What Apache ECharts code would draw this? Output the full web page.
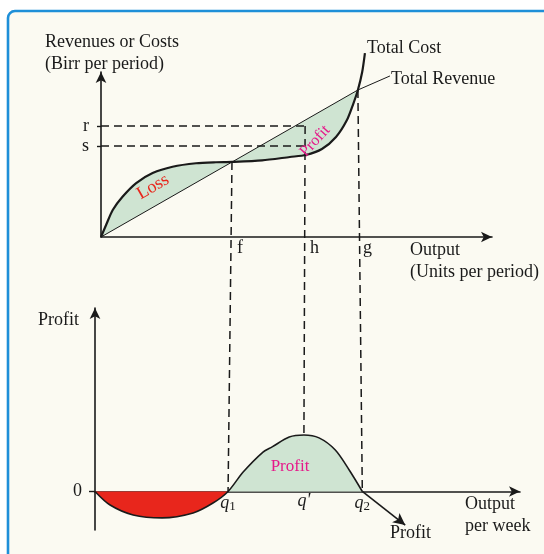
<!DOCTYPE html>
<html>
<head>
<meta charset="utf-8">
<title>Revenue, cost and profit</title>
<script src="https://cdn.jsdelivr.net/npm/echarts@6/dist/echarts.min.js"></script>
<style>
  html, body { margin: 0; padding: 0; background: #fff; }
  #chart { width: 544px; height: 554px; }
</style>
</head>
<body>
<div id="chart"></div>
<script>
// upper panel: total cost / total revenue against output
const tcOutput = [0, 0.13, 0.30, 0.55, 0.90, 1.32, 1.83, 2.43, 2.94, 3.35, 4.12, 4.83, 5.24, 5.65, 6.01, 6.29, 6.45, 6.57, 6.68, 6.75]
const tcValue = [0, 7.3, 16.4, 24.4, 32.7, 38.8, 42.6, 44.7, 45.3, 45.5, 46.4, 48.5, 49.7, 53.3, 60.6, 70.9, 80.6, 89.1, 100, 111.5]
const trOutput = [0, 6.57, 7.39]
const trValue = [0, 89.1, 97.6]
const markNames = ['f', 'h', 'g']
const markOutput = [3.35, 5.22, 6.57]
const levelNames = ['s', 'r']
const levelValue = [55.2, 67.3]

// lower panel: profit against output
const profitOutput = [0, 0.38, 0.96, 1.69, 2.47, 2.97, 3.35, 3.73, 4.23, 4.46, 4.89, 5.26, 5.64, 6.05, 6.40, 6.73]
const profitValue = [0, -7.4, -12.8, -14.4, -11.7, -6.3, 0, 10.6, 21.5, 24.3, 29.7, 30.8, 29.2, 22.6, 11.7, 0]
const profitTail = [7.81, -18.3]
const qNames = ['q1', "q'", 'q2']
const qOutput = [3.35, 5.26, 6.73]
const zeroValue = [0]

const serif = "'Liberation Serif', 'DejaVu Serif', serif"
const ink = '#1a1a1a'
const green = '#cfe4d2'
const red = '#e8261c'
const pink = '#e6198a'

// lower grid extent, used to lift its x axis onto the zero line
const lowGrid = { left: 95, right: 24, top: 308, bottom: 24 }
const lowMin = -21
const lowMax = 100
const lowZeroOffset = -(-lowMin) * (554 - lowGrid.top - lowGrid.bottom) / (lowMax - lowMin)

const tcData = tcOutput.map((x, i) => [x, tcValue[i]])
const trData = trOutput.map((x, i) => [x, trValue[i]])
const fillData = tcData.filter(p => p[0] <= markOutput[2])
const profitData = profitOutput.map((x, i) => [x, profitValue[i]])
const lossData = profitData.filter(p => p[0] <= qOutput[0])
const gainData = profitData.filter(p => p[0] >= qOutput[0] && p[0] <= qOutput[2])

// dashed drops between the two panels
const dropTop = [[markOutput[0], tcValue[9]], [markOutput[1], levelValue[1]], [markOutput[2], trValue[1]]]
const dropBottom = [[qOutput[0], 0], [qOutput[1], profitValue[11]], [qOutput[2], 0]]

function nearest (arr, v) {
  let best = 0
  arr.forEach((a, i) => { if (Math.abs(a - v) < Math.abs(arr[best] - v)) best = i })
  return best
}

function arrowLine (onZero) {
  return {
    show: true,
    onZero: onZero,
    symbol: ['none', 'arrow'],
    symbolSize: [8, 11],
    lineStyle: { color: ink, width: 1.6 }
  }
}

function txt (text, x, y, opt) {
  return Object.assign({
    type: 'text',
    x: x,
    y: y,
    z: 100,
    style: Object.assign({
      text: text,
      fill: ink,
      font: '18px ' + serif,
      textVerticalAlign: 'middle'
    }, (opt && opt.style) || {})
  }, (opt && opt.el) || {})
}

const chart = echarts.init(document.getElementById('chart'))

const option = {
  animation: false,
  backgroundColor: '#ffffff',
  grid: [
    { left: 101, right: 52, top: 72, bottom: 317 },
    lowGrid
  ],
  xAxis: [
    {
      gridIndex: 0,
      type: 'value',
      min: 0,
      max: 10,
      axisLine: arrowLine(true),
      axisTick: { show: false },
      splitLine: { show: false },
      axisLabel: {
        customValues: markOutput,
        formatter: v => markNames[nearest(markOutput, v)],
        color: ink,
        fontFamily: serif,
        fontSize: 18,
        align: 'left',
        margin: 2,
        padding: [0, 0, 0, 5]
      }
    },
    {
      gridIndex: 1,
      type: 'value',
      min: 0,
      max: 10.7,
      offset: lowZeroOffset,
      axisLine: arrowLine(false),
      axisTick: { show: false },
      splitLine: { show: false },
      axisLabel: {
        customValues: qOutput,
        formatter: v => {
          const n = qNames[nearest(qOutput, v)]
          if (n.length > 1 && n[1] !== "'") return '{q|q}{sub|' + n.slice(1) + '}'
          return '{q|' + n + '}'
        },
        margin: 1,
        rich: {
          q: { fontFamily: serif, fontStyle: 'italic', fontSize: 18, color: ink },
          sub: { fontFamily: serif, fontSize: 13, color: ink, padding: [8, 0, 0, 0] }
        }
      }
    }
  ],
  yAxis: [
    {
      gridIndex: 0,
      type: 'value',
      min: 0,
      max: 100,
      axisLine: arrowLine(true),
      axisTick: { show: true, customValues: levelValue, length: 4, lineStyle: { color: ink, width: 1.4 } },
      splitLine: { show: false },
      axisLabel: {
        customValues: levelValue,
        formatter: v => levelNames[nearest(levelValue, v)],
        color: ink,
        fontFamily: serif,
        fontSize: 18,
        margin: 12
      }
    },
    {
      gridIndex: 1,
      type: 'value',
      min: lowMin,
      max: lowMax,
      axisLine: arrowLine(true),
      axisTick: { show: true, customValues: zeroValue, length: 6, lineStyle: { color: ink, width: 1.4 } },
      splitLine: { show: false },
      axisLabel: {
        customValues: zeroValue,
        formatter: v => String(v),
        color: ink,
        fontFamily: serif,
        fontSize: 18,
        margin: 13
      }
    }
  ],
  series: [
    {
      // green band between cost and revenue
      type: 'custom',
      xAxisIndex: 0,
      yAxisIndex: 0,
      z: 1,
      data: [fillData[0]],
      renderItem: (params, api) => {
        return {
          type: 'polygon',
          shape: { points: fillData.map(p => api.coord(p)), smooth: 0 },
          style: { fill: green }
        }
      }
    },
    {
      name: 'Total Revenue',
      type: 'line',
      xAxisIndex: 0,
      yAxisIndex: 0,
      data: trData,
      symbol: 'none',
      lineStyle: { color: ink, width: 1 },
      z: 3
    },
    {
      name: 'Total Cost',
      type: 'line',
      xAxisIndex: 0,
      yAxisIndex: 0,
      data: tcData,
      symbol: 'none',
      smooth: 0.25,
      clip: false,
      lineStyle: { color: ink, width: 2.2 },
      z: 4
    },
    {
      type: 'line',
      xAxisIndex: 0,
      yAxisIndex: 0,
      data: [[0, levelValue[1]], [markOutput[1], levelValue[1]]],
      symbol: 'none',
      lineStyle: { color: ink, width: 1.5, type: [8, 5] }
    },
    {
      type: 'line',
      xAxisIndex: 0,
      yAxisIndex: 0,
      data: [[0, levelValue[0]], [markOutput[1], levelValue[0]]],
      symbol: 'none',
      lineStyle: { color: ink, width: 1.5, type: [8, 5] }
    },
    {
      type: 'line',
      xAxisIndex: 1,
      yAxisIndex: 1,
      data: lossData,
      symbol: 'none',
      smooth: 0.3,
      lineStyle: { width: 0 },
      areaStyle: { color: red, opacity: 1, origin: 'auto' },
      z: 1
    },
    {
      type: 'line',
      xAxisIndex: 1,
      yAxisIndex: 1,
      data: gainData,
      symbol: 'none',
      smooth: 0.3,
      lineStyle: { width: 0 },
      areaStyle: { color: green, opacity: 1, origin: 'auto' },
      z: 1
    },
    {
      name: 'Profit',
      type: 'line',
      xAxisIndex: 1,
      yAxisIndex: 1,
      data: profitData,
      symbol: 'none',
      smooth: 0.3,
      lineStyle: { color: ink, width: 1.6 },
      z: 4,
      markLine: {
        silent: true,
        symbol: ['none', 'arrow'],
        symbolSize: [9, 12],
        label: { show: false },
        lineStyle: { color: ink, width: 1.6, type: 'solid' },
        data: [[{ coord: dropBottom[2] }, { coord: profitTail }]]
      }
    }
  ],
  graphic: []
}

chart.setOption(option)

const drops = dropTop.map((p, i) => {
  const a = chart.convertToPixel({ gridIndex: 0 }, p)
  const b = chart.convertToPixel({ gridIndex: 1 }, dropBottom[i])
  return {
    type: 'line',
    z: 50,
    silent: true,
    shape: { x1: a[0], y1: a[1], x2: b[0], y2: b[1] },
    style: { stroke: ink, lineWidth: 1.5, lineDash: [8, 5] }
  }
})

chart.setOption({
  graphic: [
    {
      type: 'rect',
      z: -10,
      silent: true,
      shape: { x: 8, y: 11, width: 560, height: 570, r: 7 },
      style: { fill: '#fbfaf2', stroke: '#1e8fd8', lineWidth: 2.6 }
    },
    ...drops,
    txt('Revenues or Costs', 45, 42),
    txt('(Birr per period)', 45, 64),
    txt('Total Cost', 367, 48),
    txt('Total Revenue', 391, 79),
    txt('Output', 410, 250),
    txt('(Units per period)', 410, 272),
    txt('Loss', 153, 187, { style: { fill: red, textAlign: 'center' }, el: { rotation: 30 * Math.PI / 180 } }),
    txt('Profit', 315, 141, { style: { fill: pink, textAlign: 'center', font: '16px ' + serif }, el: { rotation: 47 * Math.PI / 180 } }),
    txt('Profit', 38, 320),
    txt('Profit', 290, 467, { style: { fill: pink, textAlign: 'center', font: '17px ' + serif } }),
    txt('Output', 465, 504),
    txt('per week', 465, 526),
    txt('Profit', 390, 533)
  ]
})

window.addEventListener('resize', () => {
  chart.resize()
})
</script>
</body>
</html>
